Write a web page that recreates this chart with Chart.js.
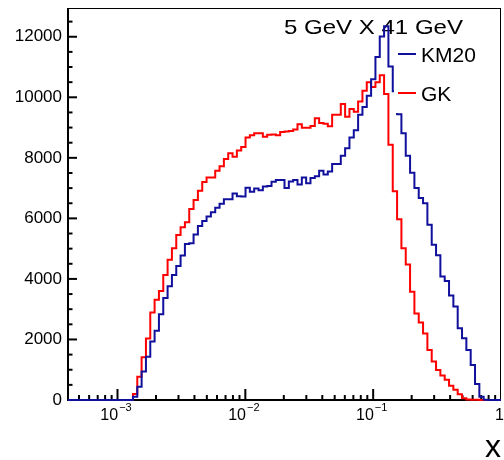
<!DOCTYPE html>
<html>
<head>
<meta charset="utf-8">
<script src="https://cdn.jsdelivr.net/npm/chart.js@4.4.0/dist/chart.umd.min.js"></script>
<style>
  html, body { margin: 0; padding: 0; background: #fff; }
  canvas { display: block; }
</style>
</head>
<body>
<canvas id="chart" width="504" height="460"></canvas>
<script>
// histogram binning (log bins)
const X_MIN = 4.1e-4;
const X_MAX = 1;
const N_BINS = 100;

// bin contents
const GK_COUNTS = [
  0, 0, 0, 0, 0, 0, 0, 0, 0, 0,
  0, 0, 0, 0, 0, 200, 770, 1410, 2030, 2890,
  3310, 3600, 4130, 4630, 5010, 5450, 5710, 5870, 6310, 6610,
  6910, 7200, 7350, 7350, 7570, 7720, 7960, 8150, 8040, 8240,
  8360, 8670, 8750, 8815, 8815, 8700, 8760, 8770, 8750, 8850,
  8870, 8890, 8940, 9110, 8990, 8990, 9050, 9310, 9150, 9130,
  9040, 9420, 9420, 9780, 9360, 9610, 9520, 9860, 10220, 10500,
  10340, 10500, 10730, 10110, 8430, 6900, 5970, 5010, 4480, 3580,
  2860, 2560, 2200, 1650, 1270, 990, 810, 670, 470, 340,
  190, 55, 20, 10, 5, 3, 2, 0, 0, 0
];
const KM20_COUNTS = [
  0, 0, 0, 0, 0, 0, 0, 0, 0, 0,
  0, 0, 0, 0, 0, 110, 440, 940, 1430, 1930,
  2290, 2830, 3370, 3760, 4130, 4430, 4770, 5150, 5180, 5470,
  5750, 5910, 6060, 6200, 6350, 6480, 6630, 6630, 6820, 6730,
  6720, 7010, 6880, 6990, 6930, 7050, 7070, 7210, 7270, 7270,
  7000, 7220, 7270, 7120, 7350, 7160, 7330, 7390, 7570, 7450,
  7550, 7800, 7800, 8070, 8320, 8670, 8910, 9420, 9680, 10050,
  10600, 11330, 12010, 12350, 11020, 10200, 9440, 8815, 8070, 7510,
  7000, 6670, 6500, 5790, 5130, 4780, 4080, 3930, 3450, 3090,
  2370, 2040, 1650, 1160, 530, 110, 10, 0, 0, 0
];

const X_TICKS = [1e-3, 1e-2, 1e-1, 1];
const X_TICK_BASES = ['10', '10', '10', '1'];
const X_TICK_EXPONENTS = ['\u22123', '\u22122', '\u22121', ''];
const Y_TICKS = [0, 2000, 4000, 6000, 8000, 10000, 12000];
const Y_MAX = 12950;

const TITLE = '5 GeV X 41 GeV';
const X_TITLE = 'x';
const SERIES_NAMES = ['KM20', 'GK'];
const SERIES_COLORS = ['#10109c', '#ff0000'];

const FONT = "'Liberation Sans', Arial, Helvetica, sans-serif";

function binEdge(i) {
  return X_MIN * Math.pow(X_MAX / X_MIN, i / N_BINS);
}

// step outline: one point per lower bin edge, plus the last upper edge
function histPoints(counts) {
  const pts = [];
  for (let i = 0; i < N_BINS; i++) {
    pts.push({ x: binEdge(i), y: counts[i] });
  }
  pts.push({ x: binEdge(N_BINS), y: counts[N_BINS - 1] });
  return pts;
}

function seg(ctx, x1, y1, x2, y2) {
  ctx.beginPath();
  ctx.moveTo(x1, y1);
  ctx.lineTo(x2, y2);
  ctx.stroke();
}

// ROOT-like frame, inward ticks, power-of-ten labels, title and legend box
const rootStyle = {
  id: 'rootStyle',
  beforeDatasetsDraw(chart) {
    const { ctx, chartArea: a, scales } = chart;
    const xs = scales.x, ys = scales.y;
    ctx.save();
    ctx.strokeStyle = '#000';

    // frame
    ctx.lineWidth = 1;
    ctx.strokeRect(a.left, a.top + 0.5, a.right - a.left - 0.5, a.bottom - a.top);
    ctx.lineWidth = 2;
    seg(ctx, a.left, a.top, a.left, a.bottom + 1);
    seg(ctx, a.left - 1, a.bottom, a.right, a.bottom);

    // x ticks + labels
    ctx.fillStyle = '#000';
    ctx.textBaseline = 'alphabetic';
    X_TICKS.forEach((v, i) => {
      const px = xs.getPixelForValue(v);
      if (px <= a.right - 2) seg(ctx, px, a.bottom, px, a.bottom - 11);
      ctx.font = '16px ' + FONT;
      const bw = ctx.measureText(X_TICK_BASES[i]).width;
      ctx.font = '11px ' + FONT;
      const ew = ctx.measureText(X_TICK_EXPONENTS[i]).width;
      let lx = px - (bw + ew) / 2 - 2;
      if (!X_TICK_EXPONENTS[i]) lx = Math.min(px - bw / 2, 504 - bw);
      ctx.font = '16px ' + FONT;
      ctx.fillText(X_TICK_BASES[i], lx, 420);
      ctx.font = '11px ' + FONT;
      ctx.fillText(X_TICK_EXPONENTS[i], lx + bw + 1, 411);
    });
    for (let d = -4; d < 0; d++) {
      for (let k = 2; k <= 9; k++) {
        const v = k * Math.pow(10, d);
        if (v < X_MIN || v > X_MAX) continue;
        const px = xs.getPixelForValue(v);
        seg(ctx, px, a.bottom, px, a.bottom - 5);
      }
    }

    // x axis title
    ctx.font = '32px ' + FONT;
    ctx.textAlign = 'right';
    ctx.fillText(X_TITLE, 501, 457);
    ctx.textAlign = 'left';

    // y ticks
    for (let v = 0; v <= Y_MAX; v += 500) {
      const py = ys.getPixelForValue(v);
      const len = v % 2000 === 0 ? 9 : 4.5;
      seg(ctx, a.left, py, a.left + len, py);
    }

    // title
    ctx.font = '21px ' + FONT;
    const w = ctx.measureText(TITLE).width;
    ctx.translate(284, 34);
    ctx.scale(179 / w, 1);
    ctx.fillText(TITLE, 0, 0);
    ctx.restore();
  },
  afterDatasetsDraw(chart) {
    const { ctx } = chart;
    ctx.save();
    ctx.fillStyle = '#fff';
    ctx.fillRect(394, 40, 105, 73);
    ctx.font = '21px ' + FONT;
    ctx.textBaseline = 'alphabetic';
    const rows = [54, 93];
    SERIES_NAMES.forEach((name, i) => {
      ctx.strokeStyle = SERIES_COLORS[i];
      ctx.lineWidth = 2;
      seg(ctx, 398, rows[i], 416, rows[i]);
      ctx.fillStyle = '#000';
      ctx.fillText(name, 421, rows[i] + 8);
    });
    ctx.restore();
  }
};

const ctx = document.getElementById('chart').getContext('2d');
new Chart(ctx, {
  type: 'line',
  data: {
    datasets: [
      {
        label: SERIES_NAMES[0],
        data: histPoints(KM20_COUNTS),
        borderColor: SERIES_COLORS[0],
        borderWidth: 2,
        stepped: 'before',
        pointRadius: 0,
        fill: false,
        clip: false
      },
      {
        label: SERIES_NAMES[1],
        data: histPoints(GK_COUNTS),
        borderColor: SERIES_COLORS[1],
        borderWidth: 2,
        stepped: 'before',
        pointRadius: 0,
        fill: false,
        clip: false
      }
    ]
  },
  options: {
    responsive: false,
    animation: false,
    devicePixelRatio: 1,
    layout: { padding: { left: 0, right: 3, top: 8, bottom: 0 } },
    plugins: {
      legend: { display: false },
      tooltip: { enabled: false }
    },
    scales: {
      x: {
        type: 'logarithmic',
        min: X_MIN,
        max: X_MAX,
        grid: { display: false, drawTicks: false },
        border: { display: false },
        afterBuildTicks: (scale) => {
          scale.ticks = X_TICKS.map(v => ({ value: v }));
        },
        afterFit: (scale) => {
          scale.height = 60;
          scale.paddingLeft = 0;
          scale.paddingRight = 0;
        },
        ticks: { display: false }
      },
      y: {
        min: 0,
        max: Y_MAX,
        grid: { display: false, drawTicks: false },
        border: { display: false },
        afterBuildTicks: (scale) => {
          scale.ticks = Y_TICKS.map(v => ({ value: v }));
        },
        afterFit: (scale) => {
          scale.width = 68;
          scale.paddingTop = 0;
          scale.paddingBottom = 0;
        },
        ticks: {
          padding: 6,
          color: '#000',
          font: { family: FONT, size: 17 },
          callback: (value) => String(value)
        }
      }
    }
  },
  plugins: [rootStyle]
});
</script>
</body>
</html>
